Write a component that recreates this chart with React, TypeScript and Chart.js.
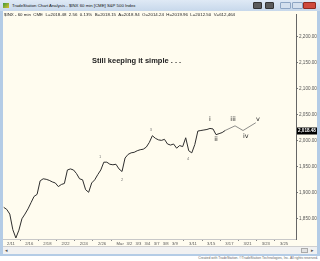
import React, { useEffect, useRef } from "react";
import { Chart, registerables } from "chart.js";

Chart.register(...registerables);

// ---- data ----
const tickDays = [0, 1, 2, 3, 4, 5, 6, 7, 8, 9, 10, 11, 12, 13, 14, 15, 16, 17, 18, 19, 20, 21, 22, 23, 24, 25, 26, 27, 28, 29, 30];
const tickLabels = ["2/11", "", "2/16", "", "2/18", "", "2/22", "", "2/24", "", "2/26", "", "Mar", "3/2", "3/3", "3/4", "3/7", "3/8", "3/9", "", "3/11", "", "3/15", "", "3/17", "", "3/21", "", "3/23", "", "3/25"];
const yTickValues = [1850, 1900, 1950, 2000, 2050, 2100, 2150, 2200];

const firstBarDay = -0.8;
const barStep = 1 / 3;
const closes = [
  1871, 1867, 1858, 1828, 1812, 1827, 1849, 1858, 1868, 1880,
  1892, 1896, 1922, 1926, 1925, 1923, 1920, 1918, 1911, 1915,
  1917, 1943, 1945, 1943, 1936, 1926, 1924, 1905, 1900, 1918,
  1924, 1934, 1943, 1958, 1958, 1954, 1953, 1954, 1945, 1940,
  1966, 1973, 1976, 1977, 1980, 1982, 1983, 1987, 1996, 2009,
  2004, 2001, 2000, 2002, 1993, 1991, 1993, 1985, 1990, 1988,
  2005, 1980, 1976, 1992, 2018, 2019, 2020, 2021, 2023, 2022,
  2011, 2013, 2015, 2019,
];

const projDays = [23.53, 24.62, 25.5, 26.9];
const projValues = [2019, 2028, 2019, 2034];

const minorWaveText = ["1", "2", "3", "4"];
const minorWaveDays = [9.78, 12.2, 15.38, 19.45];
const minorWaveValues = [1969, 1924, 2020, 1965];

const majorWaveText = ["i", "ii", "iii", "iv", "v"];
const majorWaveDays = [21.87, 22.53, 24.4, 25.8, 27.14];
const majorWaveValues = [2041, 2003, 2041, 2007, 2041];

const lastPrice = 2018.48;

const X_MIN = -0.88;
const X_MAX = 31.32;
const Y_MIN = 1810;
const Y_MAX = 2242;

const FONT = '"Liberation Sans", Arial, sans-serif';
const CREAM = "#fffcef";

const fmt = (v: number) =>
  v.toLocaleString("en-US", { minimumFractionDigits: 2, maximumFractionDigits: 2 });

const annotationPlugin = {
  id: "waveLabels",
  afterDatasetsDraw(chart: any) {
    const { ctx, scales } = chart;
    const xs = scales.x;
    const ys = scales.y;
    ctx.save();
    ctx.textAlign = "center";
    ctx.textBaseline = "middle";
    ctx.fillStyle = "#777";
    ctx.font = `4px ${FONT}`;
    minorWaveText.forEach((t, i) => {
      ctx.fillText(t, xs.getPixelForValue(minorWaveDays[i]), ys.getPixelForValue(minorWaveValues[i]));
    });
    ctx.fillStyle = "#222";
    ctx.font = `6.5px "DejaVu Sans", sans-serif`;
    majorWaveText.forEach((t, i) => {
      ctx.fillText(t, xs.getPixelForValue(majorWaveDays[i]), ys.getPixelForValue(majorWaveValues[i]));
    });
    ctx.restore();
  },
  afterDraw(chart: any) {
    const { ctx, chartArea, scales } = chart;
    const y = scales.y.getPixelForValue(lastPrice);
    ctx.save();
    ctx.fillStyle = "#000";
    ctx.fillRect(chartArea.right + 1, Math.round(y) - 3.5, 21, 7);
    ctx.fillStyle = "#fff";
    ctx.font = `bold 4.6px ${FONT}`;
    ctx.textBaseline = "middle";
    ctx.textAlign = "left";
    ctx.fillText(fmt(lastPrice), chartArea.right + 2, Math.round(y));
    ctx.restore();
  },
};

export default function App() {
  const ref = useRef<HTMLCanvasElement>(null);

  useEffect(() => {
    document.body.style.margin = "0";
    const canvas = ref.current!;
    const priceData = closes.map((v, i) => ({ x: firstBarDay + i * barStep, y: v }));
    const projData = projValues.map((v, i) => ({ x: projDays[i], y: v }));
    const chart = new Chart(canvas, {
      type: "line",
      data: {
        datasets: [
          { data: priceData, borderColor: "#2e2e2e", borderWidth: 1, pointRadius: 0, tension: 0 },
          { data: projData, borderColor: "#707070", borderWidth: 0.8, pointRadius: 0, tension: 0 },
        ],
      },
      options: {
        animation: false,
        responsive: false,
        maintainAspectRatio: false,
        layout: { padding: 0 },
        plugins: { legend: { display: false }, tooltip: { enabled: false }, title: { display: false } },
        scales: {
          x: {
            type: "linear",
            min: X_MIN,
            max: X_MAX,
            afterBuildTicks: (s: any) => {
              s.ticks = tickDays.map((v) => ({ value: v }));
            },
            afterFit: (s: any) => {
              s.height = 7;
            },
            ticks: {
              autoSkip: false,
              maxRotation: 0,
              minRotation: 0,
              padding: 0,
              color: "#555",
              font: { size: 4.2, family: FONT },
              callback: (_v: any, i: number) => tickLabels[i],
            },
            grid: {
              drawOnChartArea: false,
              drawTicks: true,
              tickLength: 2,
              tickColor: (c: any) => (tickLabels[c.index] ? "rgba(0,0,0,0)" : "#888"),
            },
            border: { color: "#c8c8c8", width: 1 },
          },
          y: {
            type: "linear",
            position: "right",
            min: Y_MIN,
            max: Y_MAX,
            afterBuildTicks: (s: any) => {
              s.ticks = yTickValues.map((v) => ({ value: v }));
            },
            afterFit: (s: any) => {
              s.width = 21;
            },
            ticks: {
              padding: 1,
              color: "#555",
              font: { size: 4.6, family: FONT },
              callback: (v: any) => fmt(Number(v)),
            },
            grid: { drawOnChartArea: false, drawTicks: true, tickLength: 2, tickColor: "#777" },
            border: { color: "#666", width: 1 },
          },
        },
      },
      plugins: [annotationPlugin],
    });
    return () => chart.destroy();
  }, []);

  const btn = (left: number, w: number, bg: string, border: string) => (
    <div
      style={{
        position: "absolute",
        left,
        top: 2,
        width: w,
        height: 7,
        background: bg,
        border: `1px solid ${border}`,
        boxSizing: "border-box",
        borderRadius: 1,
      }}
    />
  );

  return (
    <div
      style={{
        position: "relative",
        width: 320,
        height: 261,
        background: "#fff",
        overflow: "hidden",
        fontFamily: FONT,
      }}
    >
      {/* window frame */}
      <div style={{ position: "absolute", left: 0, top: 0, width: 320, height: 256, background: "#b4cce6" }} />
      {/* title bar */}
      <div
        style={{
          position: "absolute",
          left: 0,
          top: 0,
          width: 320,
          height: 11,
          background: "linear-gradient(#dfe9f5, #c7d8eb)",
        }}
      />
      <div
        style={{
          position: "absolute",
          left: 3,
          top: 3,
          width: 6,
          height: 5,
          background: "linear-gradient(135deg, #3a9a3a, #e0c030)",
        }}
      />
      <div
        style={{
          position: "absolute",
          left: 12,
          top: 0,
          height: 11,
          lineHeight: "11px",
          fontSize: 4.3,
          color: "#111",
          whiteSpace: "nowrap",
        }}
      >
        TradeStation Chart Analysis - $INX 60 min [CME] S&amp;P 500 Index
      </div>
      {btn(253, 9, "#5b5b5b", "#333")}
      {btn(265, 9, "#5b5b5b", "#333")}
      {btn(280, 11, "#d4e0ee", "#8ea6c4")}
      {btn(292, 11, "#d4e0ee", "#8ea6c4")}
      {btn(303, 13, "#cf4a3c", "#8e2a20")}

      {/* chart canvas */}
      <canvas
        ref={ref}
        width={314}
        height={235}
        style={{ position: "absolute", left: 3, top: 11, width: 314, height: 235, background: CREAM }}
      />

      {/* status line */}
      <div
        style={{
          position: "absolute",
          left: 4,
          top: 11,
          height: 7,
          lineHeight: "7px",
          fontSize: 4.4,
          color: "#222",
          whiteSpace: "nowrap",
        }}
      >
        $INX - 60 min&nbsp; CME&nbsp; L=2018.48&nbsp; 2.56&nbsp; 0.13%&nbsp; B=2018.15&nbsp; A=2018.94&nbsp; O=2014.24&nbsp; H=2019.96&nbsp; L=2012.50&nbsp; V=612,464
      </div>

      {/* annotation title */}
      <div
        style={{
          position: "absolute",
          left: 92,
          top: 56,
          height: 10,
          lineHeight: "10px",
          fontSize: 7.5,
          fontWeight: "bold",
          color: "#222",
          whiteSpace: "nowrap",
        }}
      >
        Still keeping it simple . . .
      </div>

      {/* scrollbar */}
      <div
        style={{
          position: "absolute",
          left: 3,
          top: 246,
          width: 314,
          height: 8,
          background: "#f1f1f1",
          borderTop: "1px solid #cfcfcf",
          boxSizing: "border-box",
        }}
      />
      <div style={{ position: "absolute", left: 5, top: 246, fontSize: 5, lineHeight: "8px", color: "#555" }}>◂</div>
      <div
        style={{
          position: "absolute",
          left: 301,
          top: 248,
          width: 7,
          height: 5,
          background: "#e2e2e2",
          border: "1px solid #aaa",
          boxSizing: "border-box",
        }}
      />
      <div style={{ position: "absolute", left: 311, top: 246, fontSize: 5, lineHeight: "8px", color: "#555" }}>▸</div>

      {/* copyright */}
      <div style={{ position: "absolute", left: 0, top: 256, width: 320, height: 5, background: "#fff" }} />
      <div
        style={{
          position: "absolute",
          right: 2,
          top: 256,
          height: 5,
          lineHeight: "5px",
          fontSize: 3.4,
          color: "#666",
          whiteSpace: "nowrap",
        }}
      >
        Created with TradeStation. ©TradeStation Technologies, Inc. All rights reserved.
      </div>
    </div>
  );
}
